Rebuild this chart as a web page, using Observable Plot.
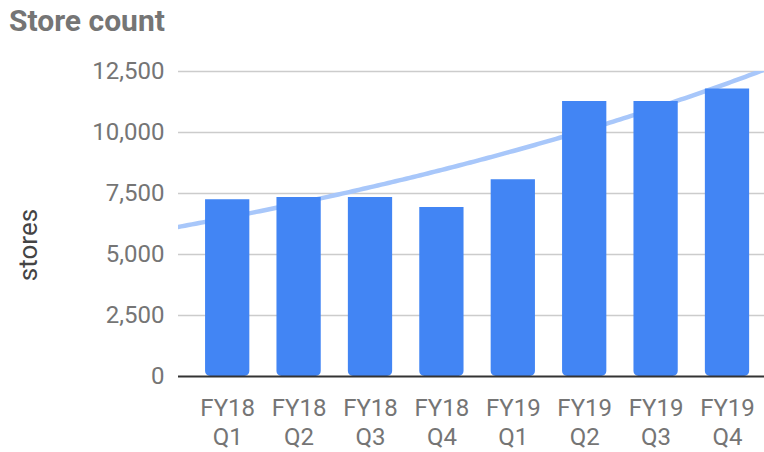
<!DOCTYPE html>
<html>
<head>
<meta charset="utf-8">
<script src="https://cdn.jsdelivr.net/npm/d3@7"></script>
<script src="https://cdn.jsdelivr.net/npm/@observablehq/plot@0.6"></script>
<style>
  html, body { margin: 0; padding: 0; background: #fff; }
  #wrap { position: relative; width: 764px; height: 452px; font-family: Roboto, sans-serif; }
  #title { position: absolute; left: 9px; top: 3px; font-size: 30px; font-weight: bold; color: #757575; }
  #chart { position: absolute; left: 0; top: 40px; }
</style>
</head>
<body>
<div id="wrap">
  <div id="title">Store count</div>
  <div id="chart"></div>
</div>
<script>
const fiscalYears = ["FY18", "FY18", "FY18", "FY18", "FY19", "FY19", "FY19", "FY19"];
const quarterNames = ["Q1", "Q2", "Q3", "Q4", "Q1", "Q2", "Q3", "Q4"];
const storeCounts = [7240, 7340, 7340, 6930, 8060, 11270, 11270, 11780];
const yTicks = [0, 2500, 5000, 7500, 10000, 12500];

const data = storeCounts.map((v, i) => ({i, label: fiscalYears[i] + "\n" + quarterNames[i], value: v}));

// exponential trendline: weighted least squares fit of ln(value) against index
const w = d => d.value * d.value;
const sw = d3.sum(data, w);
const mx = d3.sum(data, d => w(d) * d.i) / sw;
const my = d3.sum(data, d => w(d) * Math.log(d.value)) / sw;
const b = d3.sum(data, d => w(d) * (d.i - mx) * (Math.log(d.value) - my)) / d3.sum(data, d => w(d) * (d.i - mx) ** 2);
const a = my - b * mx;
const trend = d3.range(-1, 8.01, 0.05).map(x => ({x, y: Math.exp(a + b * x)}));

const halfBar = 0.31;

const chart = Plot.plot({
  width: 764,
  height: 412,
  marginLeft: 178,
  marginRight: 0,
  marginTop: 31,
  marginBottom: 76,
  style: {fontFamily: "Roboto, sans-serif", background: "transparent", overflow: "visible"},
  x: {type: "linear", domain: [-0.5, 7.5], range: [191.5, 762.7]},
  y: {domain: [0, 12500]},
  marks: [
    Plot.ruleY(yTicks.filter(t => t > 0), {stroke: "#cccccc", strokeWidth: 1.5}),
    Plot.line(trend, {x: "x", y: "y", stroke: "#a8c7fa", strokeWidth: 4.5, clip: true, curve: "linear"}),
    Plot.rectY(data, {x1: d => d.i - halfBar, x2: d => d.i + halfBar, y1: 0, y2: "value", fill: "#4285f4", ry1: 5}),
    Plot.ruleY([0], {stroke: "#333333", strokeWidth: 2}),
    Plot.axisY({ticks: yTicks, tickFormat: d3.format(","), tickSize: 0, tickPadding: 14, fontSize: 24, color: "#757575", label: null}),
    Plot.axisX({ticks: data.map(d => d.i), tickFormat: i => data[i].label, tickSize: 0, tickPadding: 19, fontSize: 24, lineHeight: 1.2, color: "#757575", label: null}),
    Plot.text(["stores"], {text: d => d, frameAnchor: "left", textAnchor: "middle", dx: -150, dy: 21, rotate: -90, fontSize: 26, fill: "#444444"})
  ]
});
document.getElementById("chart").appendChild(chart);
</script>
</body>
</html>
